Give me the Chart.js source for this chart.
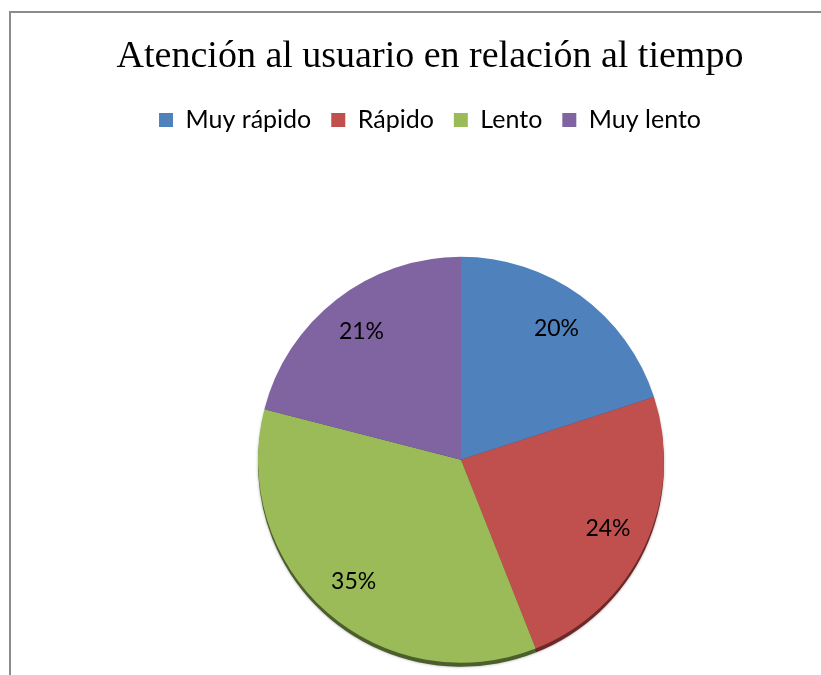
<!DOCTYPE html>
<html>
<head>
<meta charset="utf-8">
<script src="https://cdn.jsdelivr.net/npm/chart.js@4.4.0/dist/chart.umd.min.js"></script>
<style>
  html, body { margin: 0; padding: 0; background: #fff; overflow: hidden; }
  #frame { position: absolute; left: 9px; top: 11px; width: 840px; height: 700px; border-left: 2px solid #8c8c8c; border-top: 2px solid #8c8c8c; }
  #chart { display: block; width: 838px; height: 662px; }
</style>
</head>
<body>
<div id="frame"><canvas id="chart" width="838" height="662"></canvas></div>
<script>
const chartTitle = 'Atención al usuario en relación al tiempo';
const categories = ['Muy rápido', 'Rápido', 'Lento', 'Muy lento'];
const percentages = [20, 24, 35, 21];
const sliceColors = ['#4f81bd', '#c0504d', '#9bbb59', '#8064a2'];
const edgeColors = ['#2f4d72', '#6b2a28', '#4b5e2b', '#473862'];

// pie sits a bit right/below the centre of title + legend, like the Excel plot area
const pieShift = { x: 31, y: 51 };

const shiftPlot = {
    id: 'shiftPlot',
    afterLayout(chart) {
        const a = chart.chartArea;
        a.left += pieShift.x; a.right += pieShift.x;
        a.top += pieShift.y; a.bottom += pieShift.y;
    }
};

// dark rim under the pie (Excel shadow)
const pieRim = {
    id: 'pieRim',
    beforeDatasetsDraw(chart) {
        const ctx = chart.ctx;
        const arcs = chart.getDatasetMeta(0).data;
        ctx.save();
        ctx.shadowColor = 'rgba(0,0,0,0.35)';
        ctx.shadowBlur = 3;
        arcs.forEach((arc, i) => {
            const { x, y, startAngle, endAngle, outerRadius } = arc.getProps(['x', 'y', 'startAngle', 'endAngle', 'outerRadius'], true);
            ctx.beginPath();
            ctx.moveTo(x, y + 4);
            ctx.arc(x, y + 4, outerRadius, startAngle, endAngle);
            ctx.closePath();
            ctx.fillStyle = edgeColors[i];
            ctx.fill();
        });
        ctx.restore();
    }
};

const sliceLabels = {
    id: 'sliceLabels',
    afterDatasetsDraw(chart) {
        const ctx = chart.ctx;
        const meta = chart.getDatasetMeta(0);
        ctx.save();
        ctx.font = '23px Lato';
        ctx.fillStyle = '#000';
        ctx.textAlign = 'center';
        ctx.textBaseline = 'middle';
        meta.data.forEach((arc, i) => {
            const { x, y, startAngle, endAngle, outerRadius } = arc.getProps(['x', 'y', 'startAngle', 'endAngle', 'outerRadius'], true);
            const mid = (startAngle + endAngle) / 2;
            const r = outerRadius * 0.8;
            ctx.fillText(percentages[i] + '%', x + Math.cos(mid) * r, y + Math.sin(mid) * r);
        });
        ctx.restore();
    }
};

new Chart(document.getElementById('chart'), {
    type: 'pie',
    data: {
        labels: categories,
        datasets: [{
            data: percentages,
            backgroundColor: sliceColors,
            borderWidth: 0
        }]
    },
    options: {
        responsive: false,
        animation: false,
        radius: 203,
        plugins: {
            title: {
                display: true,
                text: chartTitle,
                color: '#000',
                font: { family: '"Liberation Serif", "Times New Roman", serif', size: 38, weight: 'normal' },
                padding: { top: 21, bottom: 8 }
            },
            legend: {
                position: 'top',
                labels: {
                    color: '#000',
                    font: { family: 'Lato', size: 25 },
                    boxWidth: 14,
                    boxHeight: 14,
                    padding: 20
                }
            },
            tooltip: { enabled: false }
        }
    },
    plugins: [shiftPlot, pieRim, sliceLabels]
});
</script>
</body>
</html>
